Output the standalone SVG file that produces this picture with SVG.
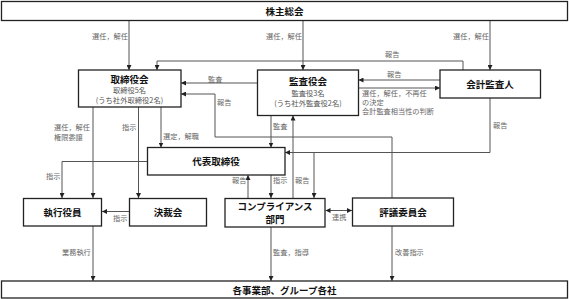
<svg xmlns="http://www.w3.org/2000/svg" width="569" height="299" viewBox="0 0 569 299">
<defs>
<marker id="ah" markerWidth="5" markerHeight="5" refX="5" refY="2.5" orient="auto-start-reverse" markerUnits="userSpaceOnUse">
<path d="M0,0 L5,2.5 L0,5 z" fill="#222"/>
</marker>
<style>
.box{fill:#fff;stroke:#222;stroke-width:1.3}
.t{font-family:"Noto Sans CJK JP","Noto Sans",sans-serif;font-size:9.5px;font-weight:bold;fill:#111;text-anchor:middle;dominant-baseline:central}
.s{font-family:"Noto Sans CJK JP","Noto Sans",sans-serif;font-size:7.3px;fill:#555;text-anchor:middle;dominant-baseline:central}
.l{font-family:"Noto Sans CJK JP","Noto Sans",sans-serif;font-size:7.2px;fill:#666;dominant-baseline:central}
.e{text-anchor:end}
.c{fill:none;stroke:#555;stroke-width:1}
.a{marker-end:url(#ah)}
</style>
</defs>
<rect width="569" height="299" fill="#fff"/>
<g id="connectors">
<path class="c a" d="M129,20.5 V70"/>
<path class="c a" d="M303,20.5 V70"/>
<path class="c a" d="M490,20.5 V70"/>
<path class="c a" d="M463,70 V61 H157 V70"/>
<path class="c a" d="M257,83 H181"/>
<path class="c a" d="M440,80 H358.5"/>
<path class="c a" d="M358.5,88 H440"/>
<path class="c a" d="M93,107 V198"/>
<path class="c a" d="M138.5,107 V198"/>
<path class="c a" d="M161,107 V147.5"/>
<path class="c a" d="M271,115.5 V147.5"/>
<path class="c a" d="M392,198 V137 H215 V94 H181"/>
<path class="c a" d="M490,98 V152.5 H285"/>
<path class="c a" d="M314,152.5 V198"/>
<path class="c a" d="M293,198 V115.5"/>
<path class="c a" d="M147,161.5 H62 V198"/>
<path class="c a" d="M248,198 V175"/>
<path class="c a" d="M271,175 V198"/>
<path class="c a" d="M129,211.5 H102"/>
<path class="c a" d="M325.5,210.5 H352" marker-start="url(#ah)"/>
<path class="c a" d="M93,226 V281"/>
<path class="c a" d="M271,227 V281"/>
<path class="c a" d="M392,226 V281"/>
<text class="l e" x="128" y="36">選任，解任</text>
<text class="l e" x="302" y="36">選任，解任</text>
<text class="l e" x="489" y="36">選任，解任</text>
<text class="l" x="385" y="54">報告</text>
<text class="l" x="208" y="79">監査</text>
<text class="l" x="387" y="74">報告</text>
<text class="l" x="362" y="93">選任，解任，不再任</text>
<text class="l" x="362" y="102">の決定</text>
<text class="l" x="362" y="111">会計監査相当性の判断</text>
<text class="l" x="54" y="127">選任，解任</text>
<text class="l" x="54" y="137">権限委譲</text>
<text class="l" x="122" y="127">指示</text>
<text class="l" x="163" y="136">選定，解職</text>
<text class="l" x="273" y="126">監査</text>
<text class="l" x="217" y="102">報告</text>
<text class="l" x="493" y="125">報告</text>
<text class="l" x="46" y="176">指示</text>
<text class="l" x="232" y="180">報告</text>
<text class="l" x="273" y="180">指示</text>
<text class="l" x="295" y="180">報告</text>
<text class="l" x="113" y="218">指示</text>
<text class="l" x="332" y="217">連携</text>
<text class="l" x="62" y="252">業務執行</text>
<text class="l" x="273" y="252">監査，指導</text>
<text class="l" x="395" y="252">改善指示</text>
</g>
<g id="kabunushi">
<rect class="box" x="1.5" y="1.5" width="566" height="19"/>
<text class="t" x="284.5" y="11">株主総会</text>
</g>
<g id="torishimariyakukai">
<rect class="box" x="78.5" y="70" width="102.5" height="37"/>
<text class="t" x="129.5" y="78.5">取締役会</text>
<text class="s" x="129.5" y="90">取締役5名</text>
<text class="s" x="129.5" y="99.5">(うち社外取締役2名)</text>
</g>
<g id="kansayakukai">
<rect class="box" x="257.5" y="70" width="101" height="45.5"/>
<text class="t" x="308" y="81">監査役会</text>
<text class="s" x="308" y="92.5">監査役3名</text>
<text class="s" x="308" y="102.5">(うち社外監査役2名)</text>
</g>
<g id="kaikei">
<rect class="box" x="440" y="70" width="100.5" height="28"/>
<text class="t" x="490" y="84">会計監査人</text>
</g>
<g id="daihyo">
<rect class="box" x="147.5" y="147.5" width="137.5" height="27.5"/>
<text class="t" x="216" y="161">代表取締役</text>
</g>
<g id="shikko">
<rect class="box" x="23.5" y="198.5" width="78" height="27.5"/>
<text class="t" x="62.5" y="212">執行役員</text>
</g>
<g id="kessai">
<rect class="box" x="129.5" y="198.5" width="77" height="27.5"/>
<text class="t" x="168" y="212">決裁会</text>
</g>
<g id="compliance">
<rect class="box" x="225" y="198.5" width="100" height="28.5"/>
<text class="t" x="275" y="206">コンプライアンス</text>
<text class="t" x="275" y="219">部門</text>
</g>
<g id="hyogi">
<rect class="box" x="352.5" y="198" width="101" height="28"/>
<text class="t" x="403" y="212">評議委員会</text>
</g>
<g id="jigyobu">
<rect class="box" x="1.5" y="281" width="566" height="17"/>
<text class="t" x="284.5" y="289.5">各事業部、グループ各社</text>
</g>
</svg>
